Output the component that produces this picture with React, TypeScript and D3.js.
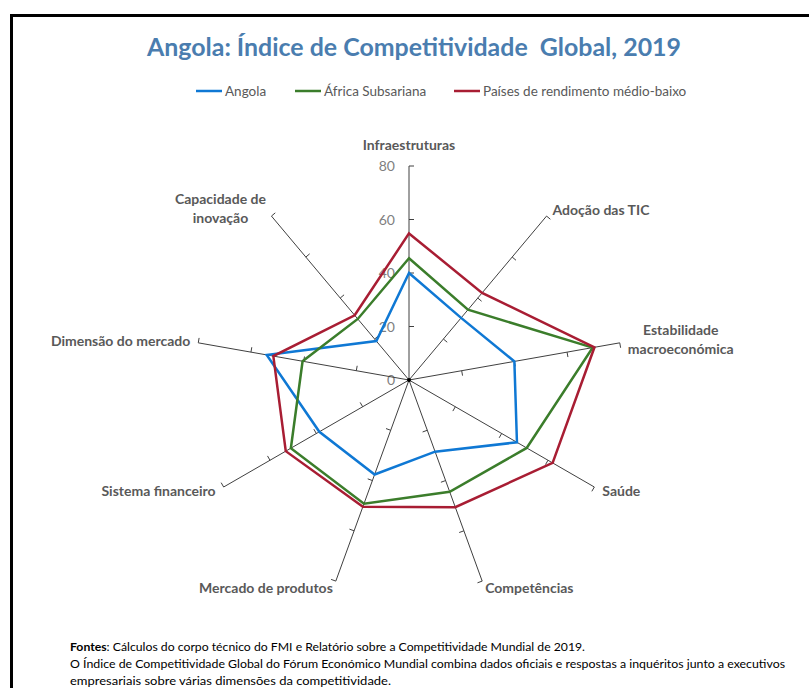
import React, { useEffect, useRef } from "react";
import * as d3 from "d3";

// GCI 2019 pillars shown in the chart
const categories = [
  "Infraestruturas",
  "Adoção das TIC",
  "Estabilidade macroeconómica",
  "Saúde",
  "Competências",
  "Mercado de produtos",
  "Sistema financeiro",
  "Dimensão do mercado",
  "Capacidade de inovação",
];
const labelLines = [
  ["Infraestruturas"],
  ["Adoção das TIC"],
  ["Estabilidade", "macroeconómica"],
  ["Saúde"],
  ["Competências"],
  ["Mercado de produtos"],
  ["Sistema financeiro"],
  ["Dimensão do mercado"],
  ["Capacidade de", "inovação"],
];

const angola = [40, 30.3, 40, 46.6, 28.5, 37.6, 38.7, 54, 19];
const africa = [45.5, 34.3, 69.7, 50.8, 44.5, 49.2, 51, 40.4, 29.8];
const rendimento = [54.8, 42.5, 70.4, 62, 50.6, 50.4, 53.2, 51.5, 31.6];

const seriesNames = ["Angola", "África Subsariana", "Países de rendimento médio-baixo"];
const seriesColors = ["#0F78D4", "#3B7D2B", "#A81D33"];
const ticks = [0, 20, 40, 60, 80];

const footLines = [
  "Cálculos do corpo técnico do FMI e Relatório sobre a Competitividade Mundial de 2019.",
  "O Índice de Competitividade Global do Fórum Económico Mundial combina dados oficiais e respostas a inquéritos junto a executivos",
  "empresariais sobre várias dimensões da competitividade.",
];

// label placement relative to the end of each spoke: dx, dy (first baseline), anchor
const labelPos: [number, number, string][] = [
  [0, -16, "middle"],
  [6, -1, "start"],
  [61, -8, "middle"],
  [8, 9, "start"],
  [3, 12, "start"],
  [-3, 12, "end"],
  [-8, 9, "end"],
  [-8, 3, "end"],
  [-51, -12, "middle"],
];

export default function App() {
  const ref = useRef<SVGSVGElement>(null);

  useEffect(() => {
    const svg = d3.select(ref.current);
    svg.selectAll("*").remove();

    const width = 809, height = 688;
    const cx = 409, cy = 380;
    const font = "Lato, 'Open Sans', sans-serif";

    svg.attr("width", width).attr("height", height);

    svg.append("rect").attr("width", width).attr("height", height).attr("fill", "#fff");

    // frame (top and left edges)
    svg.append("path")
      .attr("d", `M11.5,688 V15.5 H809`)
      .attr("fill", "none")
      .attr("stroke", "#000")
      .attr("stroke-width", 3);

    svg.append("text")
      .attr("x", 414).attr("y", 56)
      .attr("text-anchor", "middle")
      .attr("font-family", font)
      .attr("font-weight", "bold")
      .attr("font-size", 24)
      .attr("fill", "#4A7DAF")
      .attr("textLength", 534)
      .attr("lengthAdjust", "spacingAndGlyphs")
      .style("white-space", "pre")
      .text("Angola: Índice de Competitividade  Global, 2019");

    // legend
    const legendX = [196, 295, 454];
    seriesNames.forEach((name, i) => {
      const g = svg.append("g").attr("transform", `translate(${legendX[i]},91)`);
      g.append("line").attr("x1", 0).attr("x2", 26).attr("y1", 0).attr("y2", 0)
        .attr("stroke", seriesColors[i]).attr("stroke-width", 2.5);
      g.append("text").attr("x", 29).attr("y", 5)
        .attr("font-family", font).attr("font-size", 13.5).attr("fill", "#595959")
        .text(name);
    });

    const n = categories.length;
    const r = d3.scaleLinear().domain([0, 80]).range([0, 214]);
    const angle = (i: number) => (i * 2 * Math.PI) / n;

    const chart = svg.append("g").attr("transform", `translate(${cx},${cy})`);

    // tick labels on the first spoke
    chart.selectAll(".tl").data(ticks).enter().append("text")
      .attr("x", -14)
      .attr("y", (d) => -r(d) + 5)
      .attr("text-anchor", "end")
      .attr("font-family", font)
      .attr("font-size", 14)
      .attr("fill", "#7F7F7F")
      .text((d) => d);

    // spokes + ticks
    categories.forEach((c, i) => {
      const a = angle(i);
      const ux = Math.sin(a), uy = -Math.cos(a);
      const px = Math.cos(a), py = Math.sin(a);
      chart.append("line")
        .attr("x1", 0).attr("y1", 0)
        .attr("x2", ux * r(80)).attr("y2", uy * r(80))
        .attr("stroke", "#404040").attr("stroke-width", 1);
      ticks.slice(1).forEach((t) => {
        const x = ux * r(t), y = uy * r(t);
        chart.append("line")
          .attr("x1", x).attr("y1", y)
          .attr("x2", x + px * 5).attr("y2", y + py * 5)
          .attr("stroke", "#404040").attr("stroke-width", 1);
      });

      const [dx, dy, anchor] = labelPos[i];
      const t = chart.append("text")
        .attr("text-anchor", anchor)
        .attr("font-family", font)
        .attr("font-weight", "bold")
        .attr("font-size", 14)
        .attr("fill", "#595959");
      labelLines[i].forEach((ln, k) => {
        t.append("tspan")
          .attr("x", ux * r(80) + dx)
          .attr("y", uy * r(80) + dy + k * 19)
          .text(ln);
      });
    });

    chart.append("circle").attr("r", 2).attr("fill", "#000");

    const line = d3.lineRadial<number>()
      .angle((d, i) => angle(i))
      .radius((d) => r(d))
      .curve(d3.curveLinearClosed);

    [angola, africa, rendimento].forEach((s, i) => {
      chart.append("path")
        .attr("d", line(s))
        .attr("fill", "none")
        .attr("stroke", seriesColors[i])
        .attr("stroke-width", 2.5)
        .attr("stroke-linejoin", "miter");
    });

    // footnote
    const foot = svg.append("g").attr("font-family", font).attr("font-size", 12).attr("fill", "#000");
    const f1 = foot.append("text").attr("x", 70).attr("y", 651).attr("textLength", 515).attr("lengthAdjust", "spacingAndGlyphs");
    f1.append("tspan").attr("font-weight", "bold").text("Fontes");
    f1.append("tspan").text(": " + footLines[0]);
    foot.append("text").attr("x", 70).attr("y", 668).attr("textLength", 715).attr("lengthAdjust", "spacingAndGlyphs").text(footLines[1]);
    foot.append("text").attr("x", 70).attr("y", 685).attr("textLength", 321).attr("lengthAdjust", "spacingAndGlyphs").text(footLines[2]);
  }, []);

  return (
    <div style={{ position: "absolute", left: 0, top: 0 }}>
      <svg ref={ref}></svg>
    </div>
  );
}
